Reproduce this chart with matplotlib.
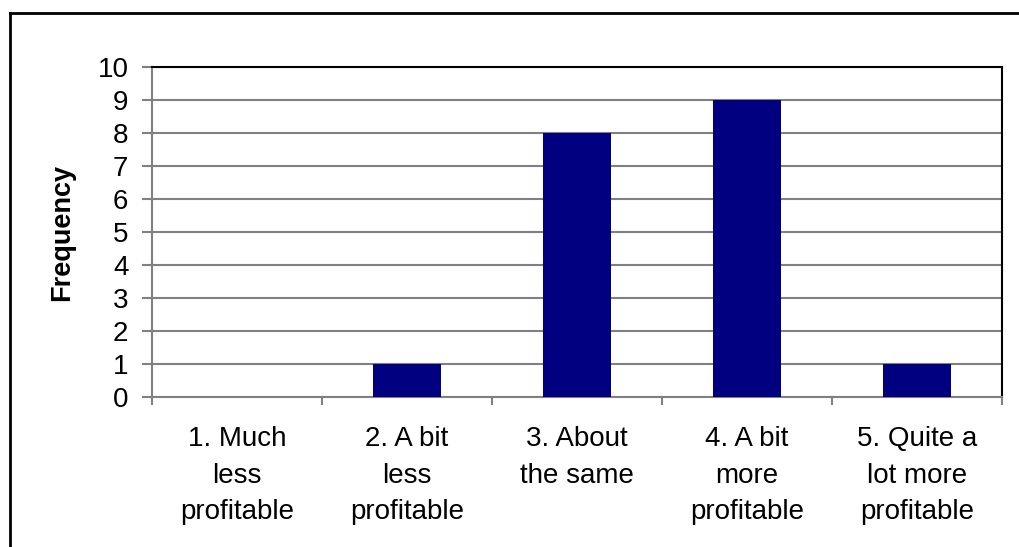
import matplotlib.pyplot as plt
from matplotlib.lines import Line2D

plt.rcParams['font.family'] = ['Liberation Sans', 'DejaVu Sans']

# survey answers and counts
categories = ["1. Much\nless\nprofitable", "2. A bit\nless\nprofitable",
              "3. About\nthe same", "4. A bit\nmore\nprofitable",
              "5. Quite a\nlot more\nprofitable"]
frequency = [0, 1, 8, 9, 1]
yticks = list(range(0, 11))

fig = plt.figure(figsize=(10.19, 5.47), dpi=100)
ax = fig.add_axes([152 / 1019, 1 - 397 / 547, 850 / 1019, 330 / 547])

x = list(range(len(categories)))
ax.bar(x, frequency, width=0.4, color='#000080', zorder=3)

ax.set_xlim(-0.5, len(categories) - 0.5)
ax.set_ylim(0, 10)
ax.set_yticks(yticks)
ax.set_yticklabels([str(t) for t in yticks], fontsize=20)
ax.yaxis.grid(True, color='#808080', linewidth=1.5, zorder=0)

# category boundaries as tick marks, labels at centres
ax.set_xticks([i - 0.5 for i in range(len(categories) + 1)])
ax.set_xticklabels([])
ax.set_xticks(x, minor=True)
ax.set_xticklabels(categories, minor=True, fontsize=20, linespacing=1.53)
ax.tick_params(axis='x', which='minor', length=0, pad=21)
ax.tick_params(axis='x', which='major', length=6, width=1.5, color='#808080')
ax.tick_params(axis='y', length=7, width=1.5, color='#808080', pad=10)

for side in ['left', 'bottom']:
    ax.spines[side].set_color('#808080')
    ax.spines[side].set_linewidth(1.5)
for side in ['top', 'right']:
    ax.spines[side].set_color('black')
    ax.spines[side].set_linewidth(1.5)

ax.set_ylabel("Frequency", fontsize=19.5, fontweight='bold', labelpad=16)

# outer chart frame (only left and top edges visible)
fig.add_artist(Line2D([10 / 1019, 10 / 1019], [0, 1 - 13 / 547],
                      transform=fig.transFigure, color='black', linewidth=2))
fig.add_artist(Line2D([10 / 1019, 1], [1 - 13 / 547, 1 - 13 / 547],
                      transform=fig.transFigure, color='black', linewidth=2))

fig.savefig('out.png', dpi=100)
